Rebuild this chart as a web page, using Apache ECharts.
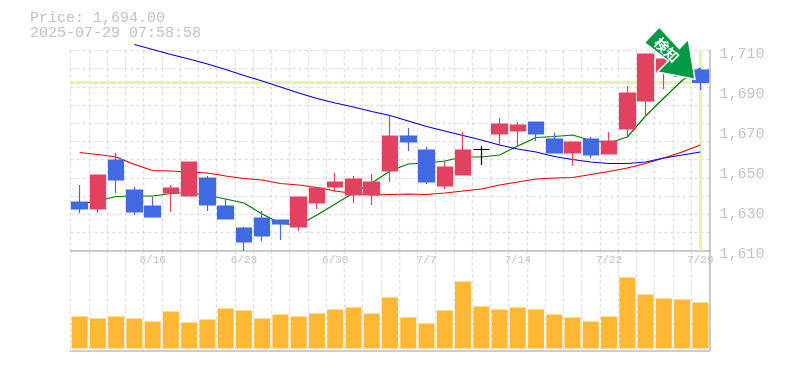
<!DOCTYPE html>
<html>
<head>
<meta charset="utf-8">
<style>html,body{margin:0;padding:0;background:#fff}#c{width:785px;height:370px}</style>
<script src="https://cdn.jsdelivr.net/npm/echarts@6/dist/echarts.min.js"></script>
</head>
<body>
<div id="c"></div>
<script>
const dates = ['6/10','6/11','6/12','6/13','6/16','6/17','6/18','6/19','6/20','6/23','6/24','6/25','6/26','6/27','6/30','7/1','7/2','7/3','7/4','7/7','7/8','7/9','7/10','7/11','7/14','7/15','7/16','7/17','7/18','7/22','7/23','7/24','7/25','7/28','7/29'];
const shownDates = ['6/16','6/23','6/30','7/7','7/14','7/22','7/29'];
const priceOpen  = [1634.25,1630.75,1655.25,1640.25,1632.25,1638.75,1637.25,1646.25,1632.25,1621.25,1626.25,1625.25,1621.75,1633.75,1641.75,1637.75,1637.75,1649.75,1667.25,1660.25,1642.25,1647.75,1660.5,1668.25,1669.75,1674.25,1665.75,1658.75,1665.75,1658.25,1670.75,1684.75,1699,1703,1700.25];
const priceClose = [1630.75,1647.75,1645.25,1629.25,1626.75,1641.25,1654.25,1632.75,1625.75,1614.25,1617.25,1623.25,1636.75,1641.25,1644.25,1645.75,1644.25,1667.25,1664.25,1644.25,1651.75,1660.25,1660.5,1673.25,1672.75,1668.25,1658.75,1664.25,1657.75,1664.75,1688.75,1708.25,1705.75,1697,1694];
const priceHigh  = [1642.75,1647.75,1658.75,1641.75,1636.75,1642.75,1654.25,1647.25,1635.75,1621.75,1629.75,1625.25,1636.75,1641.25,1648.75,1647.25,1648.25,1677.25,1671.25,1661.75,1654.75,1669.25,1662.25,1676.25,1674.25,1674.25,1668.75,1664.25,1666.75,1669.25,1692.25,1708.25,1705.75,1703,1700.75];
const priceLow   = [1628.75,1628.75,1638.75,1627.75,1626.75,1629.25,1637.25,1629.75,1625.75,1609.75,1614.75,1615.25,1619.75,1630.75,1639.25,1633.75,1632.75,1644.25,1659.75,1643.25,1640.75,1647.75,1652.75,1662.25,1661.75,1664.75,1658.75,1652.25,1656.25,1658.25,1667.25,1676.75,1690.75,1697,1690.25];
const maShort = [1633.25,1634.75,1637,1637.25,1637.25,1638.5,1639,1637.5,1635.75,1633.75,1628.25,1623.5,1622.75,1627.75,1633.25,1638.75,1643.75,1649.75,1653.25,1653.75,1654.75,1656.75,1656.75,1657.75,1662.25,1666.5,1667,1667.75,1665,1663.75,1666.75,1677.25,1686.25,1695,1701.25];
const maMid = [1659,1658,1656.75,1653,1650,1649.75,1649.25,1648.75,1647.25,1646,1645.25,1643.5,1642.75,1641.5,1639.75,1638.5,1637.75,1638,1638.25,1638,1638.75,1639.75,1640.75,1642.75,1644.25,1645.75,1646.25,1646.5,1648,1649.5,1651.25,1653.5,1656.25,1659.25,1662.75];
const maLong = [null,null,null,1713,1710.5,1708,1705.75,1703.25,1700.5,1697.5,1694.75,1691.75,1688.75,1686,1683.75,1681.75,1679.5,1677.5,1674.75,1672,1669.75,1667.5,1665.25,1662.75,1660.75,1659.25,1657,1655.5,1654.25,1653.5,1653.5,1654.25,1656.25,1657.75,1659.25];
const volumes = [32,30,32,30,27,37,26,29,40,38,30,34,32,35,39,41,35,51,31,25,38,67,42,39,41,39,34,31,27,32,71,54,50,49,46];
const lastPrice = 1694;
const lastDate = '7/29';
const headerLines = ['Price: 1,694.00','2025-07-29 07:58:58'];
const signalText = '検知';

const MONO = '"Liberation Mono","DejaVu Sans Mono",monospace';
const GRAY = '#c2c2c2';
const vGrid = {show:true,interval:0,lineStyle:{color:'#dcdcdc',type:[3,3],width:1.3}};
const solid = {show:true,onZero:false,lineStyle:{color:'#bdbdbd',width:1.5}};
const commonX = {type:'category',data:dates,boundaryGap:true,axisTick:{show:false},splitLine:vGrid,axisLine:solid};

const chart = echarts.init(document.getElementById('c'),null,{renderer:'canvas'});
chart.setOption({
  animation:false,
  backgroundColor:'#fff',
  title:{left:30,top:11,padding:0,text:headerLines.join('\n'),
    textStyle:{fontFamily:MONO,fontSize:15,fontWeight:'normal',color:GRAY,lineHeight:15}},
  grid:[
    {left:70.5,top:50.5,width:639,height:200},
    {left:70.5,top:250.5,width:639,height:100}
  ],
  xAxis:[
    Object.assign({},commonX,{gridIndex:0,position:'bottom',
      axisLabel:{show:true,interval:0,margin:4,fontFamily:MONO,fontSize:11,color:GRAY,
        formatter:v=>shownDates.includes(v)?v:''}}),
    Object.assign({},commonX,{gridIndex:1,position:'bottom',axisLabel:{show:false}})
  ],
  yAxis:[
    {type:'value',gridIndex:0,position:'right',min:1610,max:1710,interval:20,scale:true,
      axisLine:solid,axisTick:{show:false},splitLine:{show:false},
      axisLabel:{show:true,margin:10,color:GRAY,
        formatter:v=>'{a|'+v.toLocaleString('en-US')+'}',
        rich:{a:{fontFamily:MONO,fontSize:15,color:GRAY,padding:[8,0,0,0]}}}},
    {type:'value',gridIndex:0,position:'left',min:0,max:11,interval:1,
      axisLine:{show:false},axisTick:{show:false},axisLabel:{show:false},
      splitLine:{show:true,lineStyle:{color:'#dcdcdc',type:[3,3],width:1.3}}},
    {type:'value',gridIndex:1,position:'right',min:-2,max:98,
      axisLine:solid,axisTick:{show:false},axisLabel:{show:false},splitLine:{show:false}}
  ],
  series:[
    {type:'line',name:'short',xAxisIndex:0,yAxisIndex:0,data:maShort,clip:false,showSymbol:false,symbol:'none',z:3,
      lineStyle:{color:'#007a00',width:1.2},
      markLine:{silent:true,symbol:'none',z:1,animation:false,label:{show:false},
        lineStyle:{color:'#e4f5ab',width:3,type:'solid'},
        data:[{yAxis:lastPrice},{xAxis:lastDate}]}},
    {type:'line',name:'mid',xAxisIndex:0,yAxisIndex:0,data:maMid,clip:false,showSymbol:false,symbol:'none',z:3,
      lineStyle:{color:'#f00000',width:1.2}},
    {type:'line',name:'long',xAxisIndex:0,yAxisIndex:0,data:maLong,clip:false,showSymbol:false,symbol:'none',z:3,
      lineStyle:{color:'#0000e6',width:1.2}},
    {type:'candlestick',xAxisIndex:0,yAxisIndex:0,barWidth:16,clip:false,z:4,
      data:dates.map((d,i)=>[priceOpen[i],priceClose[i],priceLow[i],priceHigh[i]]),
      itemStyle:{color:'#e2425f',color0:'#4169e1',borderColor:'#e2425f',borderColor0:'#4169e1',borderColorDoji:'#000',borderWidth:1.2}},
    {type:'bar',xAxisIndex:1,yAxisIndex:2,data:volumes,barWidth:16,itemStyle:{color:'#ffb833'}}
  ],
  graphic:[
    {type:'polygon',z:100,shape:{points:[[659.3,27],[679.3,48.7],[688.3,39.3],[695,79.3],[657.3,72],[668.3,61],[644.3,42.7]]},
      style:{fill:'#009944',stroke:'#fff',lineWidth:1.5}},
    {type:'text',z:101,x:666.7,y:50,rotation:-Math.PI/4,
      style:{text:signalText,fill:'#fff',fontSize:14,fontWeight:'bold',fontFamily:'"Noto Sans CJK JP"',align:'center',verticalAlign:'middle'}}
  ]
});
</script>
</body>
</html>
